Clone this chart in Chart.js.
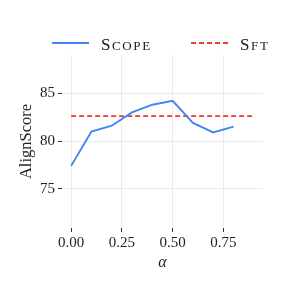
<!DOCTYPE html>
<html>
<head>
<meta charset="utf-8">
<script src="https://cdn.jsdelivr.net/npm/chart.js@4.4.1/dist/chart.umd.min.js"></script>
<style>
  body { margin: 0; background: #fff; }
  #wrap { position: relative; width: 289px; height: 289px; }
  #legend { position: absolute; top: 0; left: 0; width: 289px; height: 60px;
            font-family: "Liberation Serif", serif; font-size: 17px; color: #1a1a1a; }
  .item { position: absolute; top: 33px; letter-spacing: 1.6px; white-space: nowrap; }
  .sc { font-variant: small-caps; font-size: 19px; }
  .swatch { position: absolute; top: 42px; width: 37px; height: 2px; }
</style>
</head>
<body>
<div id="wrap">
  <canvas id="chart" width="289" height="289"></canvas>
  <div id="legend">
    <div class="swatch" style="left:52px; background:#4285f4;"></div>
    <div class="item" style="left:101px;">S<span class="sc">cope</span></div>
    <div class="swatch" style="left:191px; background:repeating-linear-gradient(to right, #f03c2d 0 5px, transparent 5px 8px);"></div>
    <div class="item" style="left:240px;">S<span class="sc">ft</span></div>
  </div>
</div>
<script>
// values
const alphas = [0, 0.1, 0.2, 0.3, 0.4, 0.5, 0.6, 0.7, 0.8];
const scopeScores = [77.4, 81.0, 81.6, 83.0, 83.8, 84.2, 81.9, 80.9, 81.5];
const sftX = [0, 0.9];
const sftScore = 82.6;
const xTicks = [0, 0.25, 0.5, 0.75];
const yTicks = [75, 80, 85];

const FONT = '"Liberation Serif", serif';
const gridColor = '#ebebeb';

const ctx = document.getElementById('chart').getContext('2d');
new Chart(ctx, {
    type: 'line',
    data: {
        datasets: [
            {
                label: 'Scope',
                data: alphas.map((a, i) => ({ x: a, y: scopeScores[i] })),
                borderColor: '#4285f4',
                borderWidth: 1.9,
                pointRadius: 0,
                tension: 0
            },
            {
                label: 'Sft',
                data: sftX.map(a => ({ x: a, y: sftScore })),
                borderColor: '#f03c2d',
                borderWidth: 1.8,
                borderDash: [5, 3],
                pointRadius: 0
            }
        ]
    },
    options: {
        responsive: false,
        animation: false,
        layout: { padding: { top: 55, right: 26, left: 0, bottom: 0 } },
        plugins: { legend: { display: false }, tooltip: { enabled: false } },
        scales: {
            x: {
                type: 'linear',
                min: -0.045,
                max: 0.945,
                afterBuildTicks: s => { s.ticks = xTicks.map(v => ({ value: v })); },
                afterFit: s => { s.height = 61; },
                border: { display: false },
                grid: { color: gridColor, tickColor: '#333', tickLength: 4, lineWidth: 1 },
                ticks: { font: { family: FONT, size: 15 }, color: '#222', padding: 2, maxRotation: 0,
                         callback: v => v.toFixed(2) },
                title: { display: true, text: 'α', font: { family: FONT, size: 16, style: 'italic' },
                         color: '#222', padding: { top: 0, bottom: 17 } }
            },
            y: {
                min: 70.9,
                max: 89,
                afterBuildTicks: s => { s.ticks = yTicks.map(v => ({ value: v })); },
                afterFit: s => { s.width = 62; },
                border: { display: false },
                grid: { color: gridColor, tickColor: '#333', tickLength: 4, lineWidth: 1 },
                ticks: { font: { family: FONT, size: 15 }, color: '#222', padding: 3 },
                title: { display: true, text: 'AlignScore', font: { family: FONT, size: 16.5 },
                         color: '#222', padding: { top: 17, bottom: 0 } }
            }
        }
    }
});
</script>
</body>
</html>
